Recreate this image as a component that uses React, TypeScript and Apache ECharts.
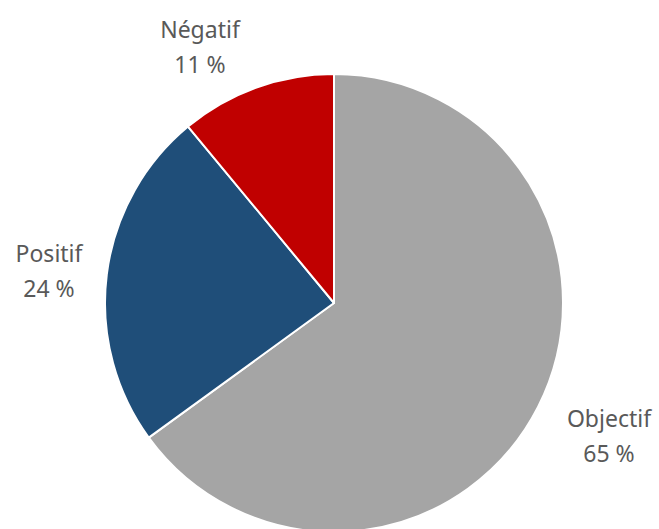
import React, { useEffect, useRef } from "react";
import * as echarts from "echarts";

const categories = ["Objectif", "Positif", "Négatif"];
const values = [65, 24, 11];
const colors = ["#a5a5a5", "#1f4e79", "#c00000"];

// label anchor points (layout only)
const labelAnchors: [number, number][] = [
  [609, 435],
  [49, 270],
  [200, 46],
];

export default function App() {
  const ref = useRef<HTMLDivElement>(null);
  useEffect(() => {
    if (!ref.current) return;
    const chart = echarts.init(ref.current, undefined, { renderer: "svg" });
    chart.setOption({
      animation: false,
      backgroundColor: "#ffffff",
      series: [
        {
          type: "pie",
          center: [334, 303],
          radius: 229,
          startAngle: 90,
          clockwise: true,
          avoidLabelOverlap: false,
          itemStyle: { borderColor: "#ffffff", borderWidth: 2 },
          label: {
            show: true,
            position: "outside",
            formatter: (p: any) => `${p.name}\n${p.value} %`,
            fontFamily: "Noto Sans",
            fontSize: 23,
            lineHeight: 35,
            color: "#595959",
            align: "center",
          },
          labelLine: { show: false },
          labelLayout: (params: any) => {
            const a = labelAnchors[params.dataIndex];
            return { x: a[0], y: a[1], align: "center", verticalAlign: "middle" };
          },
          emphasis: { disabled: true },
          data: categories.map((name, i) => ({
            name,
            value: values[i],
            itemStyle: { color: colors[i] },
          })),
        },
      ],
    });
    return () => chart.dispose();
  }, []);
  return (
    <div
      ref={ref}
      style={{ position: "fixed", left: 0, top: 0, width: 659, height: 529 }}
    />
  );
}
